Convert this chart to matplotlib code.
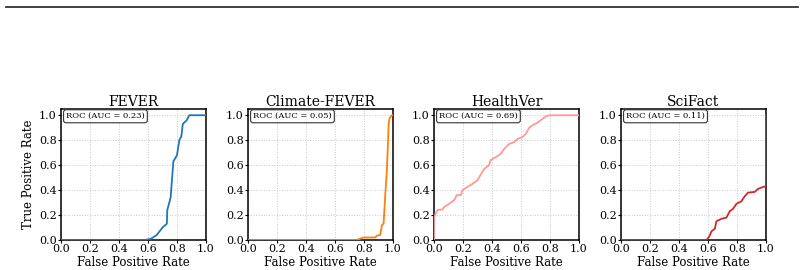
import matplotlib
matplotlib.use("Agg")
import matplotlib.pyplot as plt
from matplotlib.lines import Line2D

plt.rcParams['font.family'] = 'DejaVu Serif'

# dataset names, colours and AUC values
datasets = ['FEVER', 'Climate-FEVER', 'HealthVer', 'SciFact']
colors = ['#1f77b4', '#ff7f0e', '#ff9896', '#d62728']
aucs = [0.23, 0.05, 0.69, 0.11]

# ROC curves (fpr, tpr)
fever_fpr = [0.0, 0.58, 0.62, 0.66, 0.70, 0.73, 0.733, 0.756, 0.775, 0.80, 0.816, 0.83, 0.84, 0.867, 0.885, 1.0]
fever_tpr = [0.0, 0.0, 0.01, 0.04, 0.10, 0.13, 0.24, 0.34, 0.63, 0.68, 0.80, 0.83, 0.93, 0.96, 1.0, 1.0]

climate_fpr = [0.0, 0.75, 0.797, 0.877, 0.89, 0.912, 0.924, 0.935, 0.947, 0.958, 0.97, 0.977, 0.993, 1.0]
climate_tpr = [0.0, 0.0, 0.02, 0.02, 0.035, 0.04, 0.12, 0.13, 0.37, 0.56, 0.93, 0.98, 1.0, 1.0]

health_fpr = [0.0, 0.0, 0.01, 0.025, 0.06, 0.07, 0.105, 0.14, 0.156, 0.186, 0.197, 0.23, 0.266, 0.30,
              0.32, 0.346, 0.38, 0.39, 0.427, 0.46, 0.484, 0.518, 0.553, 0.576, 0.61, 0.633, 0.656,
              0.68, 0.713, 0.736, 0.77, 0.794, 1.0]
health_tpr = [0.0, 0.17, 0.21, 0.24, 0.245, 0.265, 0.29, 0.32, 0.36, 0.36, 0.40, 0.425, 0.45, 0.48,
              0.52, 0.57, 0.60, 0.64, 0.665, 0.69, 0.73, 0.77, 0.785, 0.81, 0.825, 0.85, 0.90,
              0.92, 0.94, 0.96, 0.99, 1.0, 1.0]

scifact_fpr = [0.0, 0.59, 0.61, 0.624, 0.647, 0.658, 0.693, 0.727, 0.75, 0.773, 0.796, 0.83, 0.853,
               0.876, 0.922, 0.945, 0.98, 0.998, 1.0, 1.0]
scifact_tpr = [0.0, 0.0, 0.03, 0.07, 0.09, 0.15, 0.17, 0.18, 0.23, 0.25, 0.29, 0.31, 0.35,
               0.38, 0.385, 0.41, 0.425, 0.43, 0.43, 1.0]

curves = [(fever_fpr, fever_tpr), (climate_fpr, climate_tpr),
          (health_fpr, health_tpr), (scifact_fpr, scifact_tpr)]

fig = plt.figure(figsize=(8.04, 2.70), dpi=100)

# thin rule across the top of the figure
fig.add_artist(Line2D([6 / 804, 798 / 804], [1 - 7 / 270, 1 - 7 / 270],
                      color='#333333', linewidth=1.3, transform=fig.transFigure))

lefts = [61, 248, 434, 621]
for i, (name, color, auc, (fpr, tpr)) in enumerate(zip(datasets, colors, aucs, curves)):
    ax = fig.add_axes([lefts[i] / 804, 30 / 270, 145 / 804, 131 / 270])
    ax.plot(fpr, tpr, color=color, linewidth=1.3, zorder=3)
    ax.set_xlim(0, 1)
    ax.set_ylim(0, 1.05)
    ax.set_xticks([0, 0.2, 0.4, 0.6, 0.8, 1.0])
    ax.set_yticks([0, 0.2, 0.4, 0.6, 0.8, 1.0])
    ax.tick_params(labelsize=8, length=2, pad=1)
    ax.grid(True, linestyle=':', color='#c8c8c8', linewidth=0.7)
    for s in ax.spines.values():
        s.set_linewidth(1.1)
    ax.set_title(name, fontsize=10, pad=2)
    ax.set_xlabel('False Positive Rate', fontsize=8.5, labelpad=1)
    if i == 0:
        ax.set_ylabel('True Positive Rate', fontsize=8.5, labelpad=3)
    ax.text(0.035, 0.975, f'ROC (AUC = {auc:.2f})', transform=ax.transAxes,
            fontsize=6, va='top', ha='left', zorder=4,
            bbox=dict(boxstyle='round,pad=0.3', facecolor='white', edgecolor='#333333', linewidth=0.8))

fig.savefig('out.png', dpi=100)
